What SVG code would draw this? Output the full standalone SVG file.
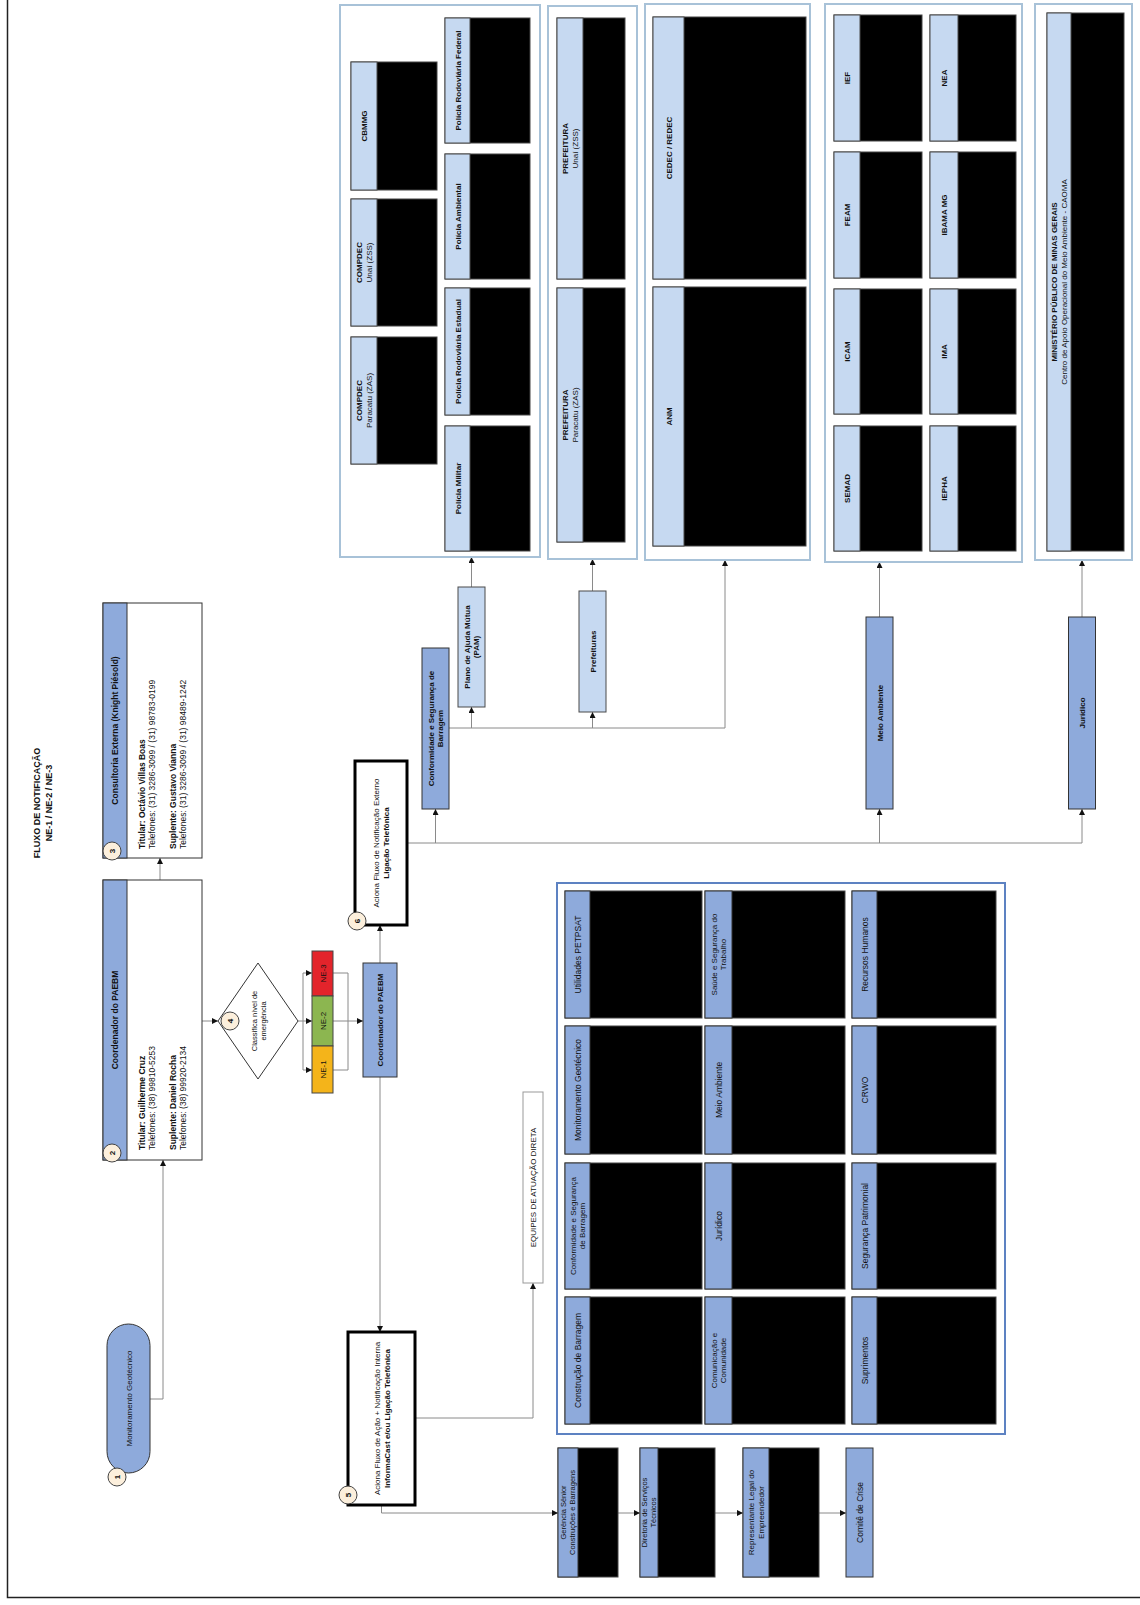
<svg xmlns="http://www.w3.org/2000/svg" width="1140" height="1605" viewBox="0 0 1140 1605">
<defs>
<marker id="ah" viewBox="0 0 6 6" refX="6" refY="3" markerWidth="6" markerHeight="6" markerUnits="userSpaceOnUse" orient="auto"><path d="M0,0 L6,3 L0,6 z" fill="#111"/></marker>
<style>
.grp{fill:#fff;stroke:#a8c2d8;stroke-width:2}
.eq{fill:#fff;stroke:#5d82c2;stroke-width:2}
.lt{fill:#c6d9f1;stroke:#4a4a4a;stroke-width:1}
.md{fill:#8eaadb;stroke:#333;stroke-width:1}
.blk{fill:#000;stroke:#444;stroke-width:1}
.wb{fill:#fff;stroke:#333;stroke-width:1}
.thick{fill:#fff;stroke:#000;stroke-width:3}
.cn{fill:none;stroke:#8a8a8a;stroke-width:1}
.ar{marker-end:url(#ah)}
.num{fill:#fcefdc;stroke:#444;stroke-width:1}
text{font-family:"Liberation Sans",Arial,Helvetica,sans-serif;font-size:8px;fill:#111}
.b{font-weight:bold}
.s{font-size:7.5px}
.m{font-size:8.5px}
.ttl{font-size:9px;font-weight:bold}
</style>
</defs>
<rect width="1140" height="1605" fill="#fff"/>
<path d="M7.5,0 V1597.5 H1140" fill="none" stroke="#222" stroke-width="1.5"/>

<g id="title">
<text class="ttl" transform="translate(40,803) rotate(-90)" text-anchor="middle"><tspan x="0" y="0">FLUXO DE NOTIFICAÇÃO</tspan><tspan x="0" y="12">NE-1 / NE-2 / NE-3</tspan></text>
</g>

<g id="connectors">
<path class="cn ar" d="M150,1399 H163 V1160"/>
<path class="cn ar" d="M160,880 V858"/>
<path class="cn ar" d="M202,1021 H218"/>
<path class="cn" d="M298,1021 H303 M303,973 V1070"/>
<path class="cn ar" d="M303,973 H312"/>
<path class="cn ar" d="M303,1021 H312"/>
<path class="cn ar" d="M303,1070 H312"/>
<path class="cn" d="M333,973 H348 V1070 H333"/>
<path class="cn ar" d="M333,1021 H363"/>
<path class="cn ar" d="M380,963 V925"/>
<path class="cn ar" d="M380,1077 V1332"/>
<path class="cn ar" d="M415,1418 H533 V1283"/>
<path class="cn ar" d="M381.5,1505 V1513 H558"/>
<path class="cn ar" d="M618,1513 H640"/>
<path class="cn ar" d="M715,1513 H743"/>
<path class="cn ar" d="M819,1513 H846"/>
<path class="cn" d="M407,843 H1082"/>
<path class="cn ar" d="M435.5,843 V809"/>
<path class="cn ar" d="M879.5,843 V809"/>
<path class="cn ar" d="M1082,843 V809"/>
<path class="cn ar" d="M449,728 H725 V560"/>
<path class="cn ar" d="M471.5,728 V707"/>
<path class="cn ar" d="M592.5,728 V712"/>
<path class="cn ar" d="M471.5,587 V557"/>
<path class="cn ar" d="M592.5,591 V559"/>
<path class="cn ar" d="M879.5,617 V562"/>
<path class="cn ar" d="M1082,617 V560"/>
</g>

<g id="n1">
<rect class="md" x="107" y="1324" width="43" height="149" rx="21.5"/>
<text transform="translate(128.5,1398.5) rotate(-90)" text-anchor="middle" y="3">Monitoramento Geotécnico</text>
<circle class="num" cx="117" cy="1477" r="9"/>
<text class="b" transform="translate(117,1477) rotate(-90)" text-anchor="middle" y="3">1</text>
</g>

<g id="n2">
<rect class="wb" x="103" y="880" width="99" height="280"/>
<rect class="md" x="103" y="880" width="24" height="280"/>
<text class="b m" transform="translate(115,1020) rotate(-90)" text-anchor="middle" y="3">Coordenador do PAEBM</text>
<text class="m" transform="translate(0,1150) rotate(-90)"><tspan class="b" x="0" y="145">Titular: Guilherme Cruz</tspan><tspan x="0" y="155">Telefones: (38) 99810-5253</tspan><tspan class="b" x="0" y="176">Suplente: Daniel Rocha</tspan><tspan x="0" y="186">Telefones: (38) 99920-2134</tspan></text>
<circle class="num" cx="112" cy="1153" r="9"/>
<text class="b" transform="translate(112,1153) rotate(-90)" text-anchor="middle" y="3">2</text>
</g>

<g id="n3">
<rect class="wb" x="103" y="603" width="99" height="255"/>
<rect class="md" x="103" y="603" width="24" height="255"/>
<text class="b m" transform="translate(115,730.5) rotate(-90)" text-anchor="middle" y="3">Consultoria Externa (Knight Piésold)</text>
<text class="m" transform="translate(0,849) rotate(-90)"><tspan class="b" x="0" y="145">Titular: Octávio Villas Boas</tspan><tspan x="0" y="155">Telefones: (31) 3286-3099 / (31) 98783-0199</tspan><tspan class="b" x="0" y="176">Suplente: Gustavo Vianna</tspan><tspan x="0" y="186">Telefones: (31) 3286-3099 / (31) 98489-1242</tspan></text>
<circle class="num" cx="112" cy="851" r="9"/>
<text class="b" transform="translate(112,851) rotate(-90)" text-anchor="middle" y="3">3</text>
</g>

<g id="n4">
<polygon points="258,963 298,1021 258,1079 218,1021" fill="#fff" stroke="#333" stroke-width="1"/>
<text class="s" transform="translate(258,1021) rotate(-90)" text-anchor="middle"><tspan x="0" y="-1.5">Classifica nível de</tspan><tspan x="0" y="7.5">emergência</tspan></text>
<circle class="num" cx="230" cy="1021" r="9"/>
<text class="b" transform="translate(230,1021) rotate(-90)" text-anchor="middle" y="3">4</text>
</g>

<g id="ne">
<rect x="312" y="951" width="21" height="45" fill="#e3242b" stroke="#444"/>
<rect x="312" y="996" width="21" height="50" fill="#8cb650" stroke="#444"/>
<rect x="312" y="1046" width="21" height="47" fill="#f4b41a" stroke="#444"/>
<text transform="translate(322.5,973.5) rotate(-90)" text-anchor="middle" y="3">NE-3</text>
<text transform="translate(322.5,1021) rotate(-90)" text-anchor="middle" y="3">NE-2</text>
<text transform="translate(322.5,1069.5) rotate(-90)" text-anchor="middle" y="3">NE-1</text>
</g>

<g id="coord">
<rect class="md" x="363" y="963" width="34" height="114"/>
<text class="b" transform="translate(380,1020) rotate(-90)" text-anchor="middle" y="3">Coordenador do PAEBM</text>
</g>

<g id="n6">
<rect class="thick" x="355" y="761" width="52" height="164"/>
<text transform="translate(381,843) rotate(-90)" text-anchor="middle"><tspan x="0" y="-2">Aciona Fluxo de Notificação Externo</tspan><tspan class="b" x="0" y="8">Ligação Telefônica</tspan></text>
<circle class="num" cx="357" cy="921" r="9"/>
<text class="b" transform="translate(357,921) rotate(-90)" text-anchor="middle" y="3">6</text>
</g>

<g id="n5">
<rect class="thick" x="348" y="1332" width="67" height="173"/>
<text transform="translate(381.5,1418.5) rotate(-90)" text-anchor="middle"><tspan x="0" y="-2">Aciona Fluxo de Ação + Notificação Interna</tspan><tspan class="b" x="0" y="8">InformaCast e/ou Ligação Telefônica</tspan></text>
<circle class="num" cx="348" cy="1495" r="9"/>
<text class="b" transform="translate(348,1495) rotate(-90)" text-anchor="middle" y="3">5</text>
</g>

<g id="conf">
<rect class="md" x="422" y="648" width="27" height="161"/>
<text class="b" transform="translate(435.5,728.5) rotate(-90)" text-anchor="middle"><tspan x="0" y="-2">Conformidade e Segurança de</tspan><tspan x="0" y="7.5">Barragem</tspan></text>
</g>
<g id="pam">
<rect class="lt" x="458" y="587" width="27" height="120"/>
<text class="b" transform="translate(471.5,647) rotate(-90)" text-anchor="middle"><tspan x="0" y="-2">Plano de Ajuda Mútua</tspan><tspan x="0" y="7.5">(PAM)</tspan></text>
</g>
<g id="pref">
<rect class="lt" x="579" y="591" width="27" height="121"/>
<text class="b" transform="translate(592.5,651.5) rotate(-90)" text-anchor="middle" y="3">Prefeituras</text>
</g>
<g id="meio">
<rect class="md" x="866" y="617" width="27" height="192"/>
<text class="b" transform="translate(879.5,713) rotate(-90)" text-anchor="middle" y="3">Meio Ambiente</text>
</g>
<g id="jur">
<rect class="md" x="1068.5" y="617" width="27" height="192"/>
<text class="b" transform="translate(1082,713) rotate(-90)" text-anchor="middle" y="3">Jurídico</text>
</g>

<g id="g-pam">
<rect class="grp" x="340" y="5" width="200" height="552"/>
<rect class="blk" x="351" y="62" width="86" height="128"/><rect class="lt" x="351" y="62" width="26" height="128"/>
<text class="b" transform="translate(364,126) rotate(-90)" text-anchor="middle" y="3">CBMMG</text>
<rect class="blk" x="351" y="199" width="86" height="127"/><rect class="lt" x="351" y="199" width="26" height="127"/>
<text transform="translate(364,262.5) rotate(-90)" text-anchor="middle"><tspan class="b" x="0" y="-2">COMPDEC</tspan><tspan x="0" y="7.5">Unaí (ZSS)</tspan></text>
<rect class="blk" x="351" y="337" width="86" height="127"/><rect class="lt" x="351" y="337" width="26" height="127"/>
<text transform="translate(364,400.5) rotate(-90)" text-anchor="middle"><tspan class="b" x="0" y="-2">COMPDEC</tspan><tspan x="0" y="7.5">Paracatu (ZAS)</tspan></text>
<rect class="blk" x="445" y="18" width="85" height="125"/><rect class="lt" x="445" y="18" width="25" height="125"/>
<text class="b" transform="translate(457.5,80.5) rotate(-90)" text-anchor="middle" y="3">Polícia Rodoviária Federal</text>
<rect class="blk" x="445" y="154" width="85" height="125"/><rect class="lt" x="445" y="154" width="25" height="125"/>
<text class="b" transform="translate(457.5,216.5) rotate(-90)" text-anchor="middle" y="3">Polícia Ambiental</text>
<rect class="blk" x="445" y="288" width="85" height="127"/><rect class="lt" x="445" y="288" width="25" height="127"/>
<text class="b" transform="translate(457.5,351.5) rotate(-90)" text-anchor="middle" y="3">Polícia Rodoviária Estadual</text>
<rect class="blk" x="445" y="426" width="85" height="125"/><rect class="lt" x="445" y="426" width="25" height="125"/>
<text class="b" transform="translate(457.5,488.5) rotate(-90)" text-anchor="middle" y="3">Polícia Militar</text>
</g>

<g id="g-pref">
<rect class="grp" x="548" y="6" width="89" height="553"/>
<rect class="blk" x="557" y="18" width="68" height="261"/><rect class="lt" x="557" y="18" width="26" height="261"/>
<text transform="translate(570,148.5) rotate(-90)" text-anchor="middle"><tspan class="b" x="0" y="-2">PREFEITURA</tspan><tspan x="0" y="7.5">Unaí (ZSS)</tspan></text>
<rect class="blk" x="557" y="288" width="68" height="254"/><rect class="lt" x="557" y="288" width="26" height="254"/>
<text transform="translate(570,415) rotate(-90)" text-anchor="middle"><tspan class="b" x="0" y="-2">PREFEITURA</tspan><tspan x="0" y="7.5">Paracatu (ZAS)</tspan></text>
</g>

<g id="g-anm">
<rect class="grp" x="645" y="4" width="165" height="556"/>
<rect class="blk" x="653" y="17" width="153" height="262"/><rect class="lt" x="653" y="17" width="31" height="262"/>
<text class="b" transform="translate(668.5,148) rotate(-90)" text-anchor="middle" y="3">CEDEC / REDEC</text>
<rect class="blk" x="653" y="287" width="153" height="259"/><rect class="lt" x="653" y="287" width="31" height="259"/>
<text class="b" transform="translate(668.5,416.5) rotate(-90)" text-anchor="middle" y="3">ANM</text>
</g>

<g id="g-meio">
<rect class="grp" x="825" y="4" width="197" height="558"/>
<rect class="blk" x="834" y="15" width="88" height="126"/><rect class="lt" x="834" y="15" width="26" height="126"/>
<text class="b" transform="translate(847,78) rotate(-90)" text-anchor="middle" y="3">IEF</text>
<rect class="blk" x="834" y="152" width="88" height="126"/><rect class="lt" x="834" y="152" width="26" height="126"/>
<text class="b" transform="translate(847,215) rotate(-90)" text-anchor="middle" y="3">FEAM</text>
<rect class="blk" x="834" y="289" width="88" height="125"/><rect class="lt" x="834" y="289" width="26" height="125"/>
<text class="b" transform="translate(847,351.5) rotate(-90)" text-anchor="middle" y="3">ICAM</text>
<rect class="blk" x="834" y="426" width="88" height="125"/><rect class="lt" x="834" y="426" width="26" height="125"/>
<text class="b" transform="translate(847,488.5) rotate(-90)" text-anchor="middle" y="3">SEMAD</text>
<rect class="blk" x="930" y="15" width="86" height="126"/><rect class="lt" x="930" y="15" width="28" height="126"/>
<text class="b" transform="translate(944,78) rotate(-90)" text-anchor="middle" y="3">NEA</text>
<rect class="blk" x="930" y="152" width="86" height="126"/><rect class="lt" x="930" y="152" width="28" height="126"/>
<text class="b" transform="translate(944,215) rotate(-90)" text-anchor="middle" y="3">IBAMA MG</text>
<rect class="blk" x="930" y="289" width="86" height="125"/><rect class="lt" x="930" y="289" width="28" height="125"/>
<text class="b" transform="translate(944,351.5) rotate(-90)" text-anchor="middle" y="3">IMA</text>
<rect class="blk" x="930" y="426" width="86" height="125"/><rect class="lt" x="930" y="426" width="28" height="125"/>
<text class="b" transform="translate(944,488.5) rotate(-90)" text-anchor="middle" y="3">IEPHA</text>
</g>

<g id="g-mp">
<rect class="grp" x="1035" y="4" width="97" height="556"/>
<rect class="blk" x="1047" y="13" width="77" height="538"/><rect class="lt" x="1047" y="13" width="24" height="538"/>
<text transform="translate(1059,282) rotate(-90)" text-anchor="middle"><tspan class="b" x="0" y="-2">MINISTÉRIO PÚBLICO DE MINAS GERAIS</tspan><tspan x="0" y="7.5">Centro de Apoio Operacional do Meio Ambiente - CAOMA</tspan></text>
</g>

<g id="eq-label">
<rect x="523" y="1092" width="20" height="191" fill="#fff" stroke="#999"/>
<text transform="translate(533,1187.5) rotate(-90)" text-anchor="middle" y="3">EQUIPES DE ATUAÇÃO DIRETA</text>
</g>

<g id="eq">
<rect class="eq" x="557" y="883" width="448" height="551"/>
<rect class="blk" x="565" y="891" width="137" height="127"/><rect class="md" x="565" y="891" width="25" height="127"/>
<text class="m" transform="translate(577.5,954.5) rotate(-90)" text-anchor="middle" y="3">Utilidades PETPSAT</text>
<rect class="blk" x="565" y="1026" width="137" height="128"/><rect class="md" x="565" y="1026" width="25" height="128"/>
<text class="m" transform="translate(577.5,1090) rotate(-90)" text-anchor="middle" y="3">Monitoramento Geotécnico</text>
<rect class="blk" x="565" y="1163" width="137" height="126"/><rect class="md" x="565" y="1163" width="25" height="126"/>
<text transform="translate(577.5,1226) rotate(-90)" text-anchor="middle"><tspan x="0" y="-2">Conformidade e Segurança</tspan><tspan x="0" y="7.5">de Barragem</tspan></text>
<rect class="blk" x="565" y="1297" width="137" height="127"/><rect class="md" x="565" y="1297" width="25" height="127"/>
<text class="m" transform="translate(577.5,1360.5) rotate(-90)" text-anchor="middle" y="3">Construção de Barragem</text>

<rect class="blk" x="705" y="891" width="140" height="127"/><rect class="md" x="705" y="891" width="27" height="127"/>
<text transform="translate(718.5,954.5) rotate(-90)" text-anchor="middle"><tspan x="0" y="-2">Saúde e Segurança do</tspan><tspan x="0" y="7.5">Trabalho</tspan></text>
<rect class="blk" x="705" y="1026" width="140" height="128"/><rect class="md" x="705" y="1026" width="27" height="128"/>
<text class="m" transform="translate(718.5,1090) rotate(-90)" text-anchor="middle" y="3">Meio Ambiente</text>
<rect class="blk" x="705" y="1163" width="140" height="126"/><rect class="md" x="705" y="1163" width="27" height="126"/>
<text class="m" transform="translate(718.5,1226) rotate(-90)" text-anchor="middle" y="3">Jurídico</text>
<rect class="blk" x="705" y="1297" width="140" height="127"/><rect class="md" x="705" y="1297" width="27" height="127"/>
<text transform="translate(718.5,1360.5) rotate(-90)" text-anchor="middle"><tspan x="0" y="-2">Comunicação e</tspan><tspan x="0" y="7.5">Comunidade</tspan></text>

<rect class="blk" x="852" y="891" width="144" height="127"/><rect class="md" x="852" y="891" width="25" height="127"/>
<text class="m" transform="translate(864.5,954.5) rotate(-90)" text-anchor="middle" y="3">Recursos Humanos</text>
<rect class="blk" x="852" y="1026" width="144" height="128"/><rect class="md" x="852" y="1026" width="25" height="128"/>
<text class="m" transform="translate(864.5,1090) rotate(-90)" text-anchor="middle" y="3">CRWO</text>
<rect class="blk" x="852" y="1163" width="144" height="126"/><rect class="md" x="852" y="1163" width="25" height="126"/>
<text class="m" transform="translate(864.5,1226) rotate(-90)" text-anchor="middle" y="3">Segurança Patrimonial</text>
<rect class="blk" x="852" y="1297" width="144" height="127"/><rect class="md" x="852" y="1297" width="25" height="127"/>
<text class="m" transform="translate(864.5,1360.5) rotate(-90)" text-anchor="middle" y="3">Suprimentos</text>
</g>

<g id="gerencia">
<rect class="blk" x="558" y="1448" width="60" height="129"/><rect class="md" x="558" y="1448" width="20" height="129"/>
<text class="s" transform="translate(568,1512.5) rotate(-90)" text-anchor="middle"><tspan x="0" y="-1.8">Gerência Sênior</tspan><tspan x="0" y="7">Construções e Barragens</tspan></text>
</g>
<g id="diretoria">
<rect class="blk" x="640" y="1448" width="75" height="129"/><rect class="md" x="640" y="1448" width="18" height="129"/>
<text class="s" transform="translate(649,1512.5) rotate(-90)" text-anchor="middle"><tspan x="0" y="-1.8">Diretoria de Serviços</tspan><tspan x="0" y="7">Técnicos</tspan></text>
</g>
<g id="representante">
<rect class="blk" x="743" y="1448" width="76" height="129"/><rect class="md" x="743" y="1448" width="26" height="129"/>
<text transform="translate(756,1512.5) rotate(-90)" text-anchor="middle"><tspan x="0" y="-2">Representante Legal do</tspan><tspan x="0" y="7.5">Empreendedor</tspan></text>
</g>
<g id="comite">
<rect class="md" x="846" y="1448" width="27" height="129"/>
<text class="m" transform="translate(859.5,1512.5) rotate(-90)" text-anchor="middle" y="3">Comitê de Crise</text>
</g>
</svg>
